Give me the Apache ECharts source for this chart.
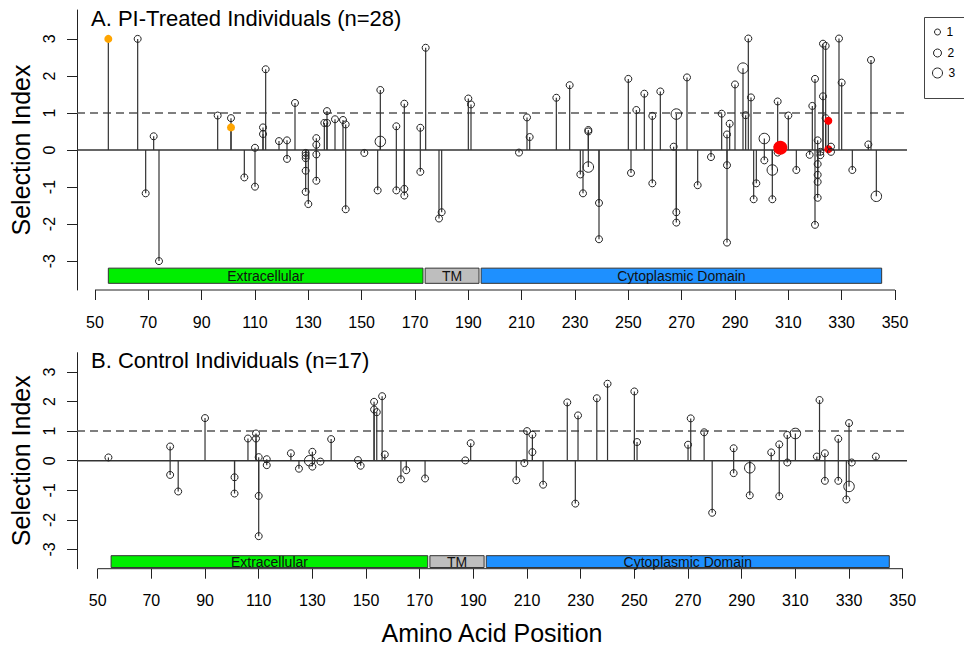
<!DOCTYPE html>
<html><head><meta charset="utf-8">
<script src="https://cdn.jsdelivr.net/npm/echarts@6/dist/echarts.min.js"></script>
<style>html,body{margin:0;padding:0;background:#fff}#c{width:964px;height:652px}</style>
</head><body><div id="c"></div>
<script>
// ---------- DATA ----------
const xTicks = [50,70,90,110,130,150,170,190,210,230,250,270,290,310,330,350];
const yTicks = [-3,-2,-1,0,1,2,3];
const domainNames = ['Extracellular','TM','Cytoplasmic Domain'];
const domainStart = [55,173.8,194.8];
const domainEnd   = [173,194,345];

// Panel A: PI-treated individuals
const posA = [55,66,69,72,74,96,101,101,106,110,110,113,113,114,119,122,122,125,129,129,129,129,129,130,133,133,133,133,136,137,137,140,143,144,144,151,156,157,157,163,163,166,166,166,172,172,174,179,180,190,191,209,212,213,223,228,232,233,235,235,235,239,239,250,251,253,256,259,259,262,267,268,268,268,272,276,281,285,287,287,287,288,290,293,294,295,296,297,298,301,301,304,304,306,306,306,307,310,313,318,319,320,320,321,321,321,321,321,322,322,323,323,324,324,325,325,326,326,329,330,334,340,341,343];
const valA = [3.00,3.00,-1.17,0.37,-3.00,0.93,0.86,0.61,-0.74,0.06,-0.99,0.61,0.43,2.18,0.24,0.26,-0.24,1.27,-0.08,-0.15,-0.22,-0.56,-1.13,-1.46,0.32,0.14,-0.12,-0.83,0.73,0.73,1.05,0.83,0.81,0.69,-1.60,-0.08,-1.09,1.62,0.23,0.64,-1.09,1.25,-1.05,-1.23,0.60,-0.59,2.76,-1.85,-1.68,1.39,1.23,-0.07,0.88,0.35,1.41,1.75,-0.66,-1.17,0.54,0.50,-0.46,-1.43,-2.41,1.92,-0.62,1.08,1.52,0.92,-0.90,1.58,0.09,0.97,-1.68,-1.96,1.96,-0.95,-0.19,0.98,0.42,-0.41,-2.50,0.71,1.77,2.21,0.94,3.01,1.42,-1.33,-0.90,0.31,-0.28,-0.54,-1.33,1.31,0.09,-0.07,0.06,0.93,-0.54,-0.13,1.19,1.92,-2.02,0.26,-0.38,-0.67,-0.86,-1.29,-0.05,-0.14,2.87,1.45,2.81,0.86,0.79,0.02,0.09,-0.05,3.01,1.82,-0.54,0.15,2.43,-1.25];
const sizeA = [1,1,1,1,1,1,1,1,1,1, 1,1,1,1,1,1,1,1,1,1, 1,1,1,1,1,1,1,1,1,1, 1,1,1,1,1,1,1,1,2,1, 1,1,1,1,1,1,1,1,1,1, 1,1,1,1,1,1,1,1,1,1, 2,1,1,1,1,1,1,1,1,1, 1,2,1,1,1,1,1,1,1,1, 1,1,1,2,1,1,1,1,1,2, 1,2,1,1,1,1,3,1,1,1, 1,1,1,1,1,1,1,1,1,1, 1,1,1,1,1,1,1,1,1,1, 1,1,1,2];
// highlight group: 0 = none, 1 = orange, 2 = red
const markA = [1,0,0,0,0,0,0,1,0,0, 0,0,0,0,0,0,0,0,0,0, 0,0,0,0,0,0,0,0,0,0, 0,0,0,0,0,0,0,0,0,0, 0,0,0,0,0,0,0,0,0,0, 0,0,0,0,0,0,0,0,0,0, 0,0,0,0,0,0,0,0,0,0, 0,0,0,0,0,0,0,0,0,0, 0,0,0,0,0,0,0,0,0,0, 0,0,0,0,0,0,2,0,0,0, 0,0,0,0,0,0,0,0,0,0, 0,0,0,0,2,2,0,0,0,0, 0,0,0,0];

// Panel B: control individuals
const posB = [54,77,77,80,90,101,101,106,109,109,110,110,110,113,113,122,125,129,130,130,133,137,147,148,153,153,154,156,157,163,165,172,187,189,206,209,210,212,212,216,225,228,229,236,240,250,251,270,271,276,279,287,287,293,293,301,304,304,307,307,310,318,319,321,321,326,326,329,330,330,331,340];
const valB = [0.11,0.48,-0.48,-1.04,1.44,-0.56,-1.11,0.75,0.92,0.75,0.12,-1.19,-2.55,0.05,-0.15,0.25,-0.27,0.00,0.30,-0.20,-0.03,0.73,0.02,-0.17,1.99,1.73,1.64,2.18,0.21,-0.63,-0.32,-0.60,0.01,0.59,-0.66,-0.08,1.00,0.88,0.29,-0.81,1.97,-1.45,1.53,2.11,2.60,2.34,0.63,0.54,1.43,0.96,-1.76,0.42,-0.42,-0.24,-1.17,0.28,0.55,-1.20,0.87,-0.06,0.92,0.14,2.05,0.25,-0.68,0.74,-0.68,-1.31,1.27,-0.87,-0.06,0.14];
const sizeB = [1,1,1,1,1,1,1,1,1,1, 1,1,1,1,1,1,1,2,1,1, 1,1,1,1,1,1,1,1,1,1, 1,1,1,1,1,1,1,1,1,1, 1,1,1,1,1,1,1,1,1,1, 1,1,1,2,1,1,1,1,1,1, 2,1,1,1,1,1,1,1,1,2, 1,1];
const markB = posB.map(() => 0);

const sizeLabels = ['1','2','3'];

// ---------- STYLE ----------
const FONT = '"Liberation Sans", Arial, Helvetica, sans-serif';
const domainColors = ['#00ee00','#bebebe','#1e90ff'];
const markColors = [null,'#ffa500','#ff0000'];
const openSize = {1:7, 2:10.5, 3:13};
const filledSize = {1:8, 2:11, 3:14};

const panels = [
  {xmin:43.25, xmax:354.5, ymin:-3.78, ymax:3.78, band:[-3.19,-3.60], grid:{left:77, top:10, width:830, height:280}},
  {xmin:42.29, xmax:351.6, ymin:-3.65, ymax:3.65, band:[-3.21,-3.61], grid:{left:77, top:352.7, width:830, height:216}}
];
const dataSets = [[posA,valA,sizeA,markA],[posB,valB,sizeB,markB]];

const grid = panels.map(p => Object.assign({outerBoundsMode:'none', containLabel:false}, p.grid));
const xAxis = panels.map((p,i) => ({
  gridIndex:i, type:'value', min:p.xmin, max:p.xmax,
  axisLine:{show:false, onZero:false},
  splitLine:{show:false},
  axisTick:{show:true, length:10, customValues:xTicks, lineStyle:{color:'#222', width:1}},
  axisLabel:{show:true, customValues:xTicks, margin:24, fontSize:16, color:'#000', fontFamily:FONT},
  name: i===1 ? 'Amino Acid Position' : '',
  nameLocation:'middle', nameGap:52,
  nameTextStyle:{fontSize:25, color:'#000', fontFamily:FONT}
}));
const yAxis = panels.map((p,i) => ({
  gridIndex:i, type:'value', min:p.ymin, max:p.ymax,
  axisLine:{show:true, onZero:false, lineStyle:{color:'#222', width:1}},
  splitLine:{show:false},
  axisTick:{show:true, length:10, customValues:yTicks, lineStyle:{color:'#222', width:1}},
  axisLabel:{show:true, customValues:yTicks, rotate:90, margin:20, fontSize:16, color:'#000', fontFamily:FONT},
  name:'Selection Index', nameLocation:'middle', nameGap:40, nameRotate:90,
  nameTextStyle:{fontSize:25, color:'#000', fontFamily:FONT}
}));

const series = [];
panels.forEach((p,i) => {
  const [pos,val,sz,mk] = dataSets[i];
  // zero and threshold lines
  series.push({type:'line', xAxisIndex:i, yAxisIndex:i, silent:true, symbol:'none', clip:false, z:1,
    data:[[p.xmin,0],[p.xmax,0]], lineStyle:{color:'#333', width:1.5}});
  series.push({type:'line', xAxisIndex:i, yAxisIndex:i, silent:true, symbol:'none', clip:false, z:1,
    data:[[p.xmin,1],[p.xmax - 1,1]], lineStyle:{color:'#555', width:1.5, type:[8,5]}});
  // x axis line from first to last tick
  series.push({type:'line', xAxisIndex:i, yAxisIndex:i, silent:true, symbol:'none', clip:false, z:1,
    data:[[xTicks[0],p.ymin],[xTicks[xTicks.length-1],p.ymin]], lineStyle:{color:'#222', width:1}});
  // stems
  series.push({type:'custom', xAxisIndex:i, yAxisIndex:i, silent:true, z:2,
    data: pos.map((x,k) => [x, val[k]]),
    renderItem: (params, api) => {
      const a = api.coord([api.value(0), 0]);
      const b = api.coord([api.value(0), api.value(1)]);
      return {type:'line', shape:{x1:a[0], y1:a[1], x2:b[0], y2:b[1]}, style:{stroke:'#333', lineWidth:1.2}};
    }});
  // domain bars
  series.push({type:'custom', xAxisIndex:i, yAxisIndex:i, silent:true, z:3,
    data: domainNames.map((n,k) => [domainStart[k], domainEnd[k], k]),
    renderItem: (params, api) => {
      const k = api.value(2);
      const a = api.coord([api.value(0), p.band[0]]);
      const b = api.coord([api.value(1), p.band[1]]);
      return {type:'group', children:[
        {type:'rect', shape:{x:a[0], y:a[1], width:b[0]-a[0], height:b[1]-a[1]}, style:{fill:domainColors[k], stroke:'#333', lineWidth:1}},
        {type:'text', x:(a[0]+b[0])/2, y:(a[1]+b[1])/2+0.5, style:{text:domainNames[k], align:'center', verticalAlign:'middle', fontSize:14, fontFamily:FONT, fill:'#111'}}
      ]};
    }});
  // points by size class
  [1,2,3].forEach(s => {
    const d = [];
    pos.forEach((x,k) => {
      if (sz[k] !== s) return;
      if (mk[k]) d.push({value:[x,val[k]], symbolSize:filledSize[s], itemStyle:{color:markColors[mk[k]], borderColor:markColors[mk[k]], borderWidth:0}});
      else d.push({value:[x,val[k]], symbolSize:openSize[s]});
    });
    series.push({type:'scatter', name:sizeLabels[s-1], xAxisIndex:i, yAxisIndex:i, z:4, symbol:'circle',
      data:d, itemStyle:{color:'rgba(0,0,0,0)', borderColor:'#222', borderWidth:1, opacity:1},
      emphasis:{disabled:true}});
  });
});

const legendSizes = [6,8,10];
const legendTops = [33,54,74];
const legend = sizeLabels.map((n,k) => ({
  data:[n], left: 937 - legendSizes[k]/2, top: legendTops[k] - 7, icon:'circle',
  itemWidth:legendSizes[k], itemHeight:legendSizes[k], itemGap:4, padding:0, selectedMode:false,
  itemStyle:{color:'rgba(0,0,0,0)', borderColor:'#222', borderWidth:1},
  textStyle:{fontSize:12, color:'#000', fontFamily:FONT, padding:[0,0,0,1]}
}));

const option = {
  backgroundColor:'#fff',
  animation:false,
  title:[
    {text:'A. PI-Treated Individuals (n=28)', left:91, top:7, padding:0, textStyle:{fontSize:22, fontWeight:'normal', color:'#000', fontFamily:FONT}},
    {text:'B. Control Individuals (n=17)', left:91, top:349, padding:0, textStyle:{fontSize:22, fontWeight:'normal', color:'#000', fontFamily:FONT}}
  ],
  grid, xAxis, yAxis, series, legend,
  graphic:[{type:'rect', left:922, top:15, shape:{width:60, height:81}, style:{fill:'none', stroke:'#444', lineWidth:1}, silent:true}]
};

const chart = echarts.init(document.getElementById('c'), null, {renderer:'svg', width:964, height:652});
chart.setOption(option);
</script></body></html>
